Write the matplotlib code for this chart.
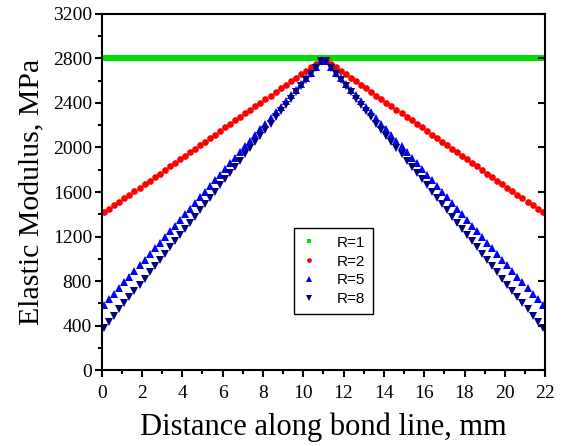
import matplotlib.pyplot as plt
import numpy as np

# distance along bond line, mm (element centres, 0.25 mm apart)
x = np.arange(0.125, 22, 0.25)

# elastic modulus, MPa
r1 = [2800] * 88
r2 = [1416, 1448, 1480, 1511, 1543, 1575, 1607, 1639, 1670, 1702, 1734, 1766,
      1798, 1830, 1861, 1893, 1925, 1957, 1989, 2020, 2052, 2084, 2116, 2148,
      2180, 2211, 2243, 2275, 2307, 2339, 2370, 2402, 2434, 2466, 2498, 2530,
      2561, 2593, 2625, 2657, 2689, 2720, 2752, 2784,
      2784, 2752, 2720, 2689, 2657, 2625, 2593, 2561, 2530, 2498, 2466, 2434,
      2402, 2370, 2339, 2307, 2275, 2243, 2211, 2180, 2148, 2116, 2084, 2052,
      2020, 1989, 1957, 1925, 1893, 1861, 1830, 1798, 1766, 1734, 1702, 1670,
      1639, 1607, 1575, 1543, 1511, 1480, 1448, 1416]
r5 = [585, 636, 687, 738, 789, 840, 891, 942, 993, 1044, 1095, 1145,
      1196, 1247, 1298, 1349, 1400, 1451, 1502, 1553, 1604, 1655, 1705, 1756,
      1807, 1858, 1909, 1960, 2011, 2062, 2113, 2164, 2215, 2265, 2316, 2367,
      2418, 2469, 2520, 2571, 2622, 2673, 2724, 2775,
      2775, 2724, 2673, 2622, 2571, 2520, 2469, 2418, 2367, 2316, 2265, 2215,
      2164, 2113, 2062, 2011, 1960, 1909, 1858, 1807, 1756, 1705, 1655, 1604,
      1553, 1502, 1451, 1400, 1349, 1298, 1247, 1196, 1145, 1095, 1044, 993,
      942, 891, 840, 789, 738, 687, 636, 585]
r8 = [378, 434, 489, 545, 601, 656, 712, 768, 823, 879, 935, 990,
      1046, 1102, 1157, 1213, 1269, 1324, 1380, 1436, 1491, 1547, 1603, 1659,
      1714, 1770, 1826, 1881, 1937, 1993, 2048, 2104, 2160, 2215, 2271, 2327,
      2382, 2438, 2494, 2549, 2605, 2661, 2716, 2772,
      2772, 2716, 2661, 2605, 2549, 2494, 2438, 2382, 2327, 2271, 2215, 2160,
      2104, 2048, 1993, 1937, 1881, 1826, 1770, 1714, 1659, 1603, 1547, 1491,
      1436, 1380, 1324, 1269, 1213, 1157, 1102, 1046, 990, 935, 879, 823,
      768, 712, 656, 601, 545, 489, 434, 378]

series = [("R=1", r1, "s", "#00dd00", 3.9),
          ("R=2", r2, "o", "#ff0000", 4.8),
          ("R=5", r5, "^", "#0000ff", 5.8),
          ("R=8", r8, "v", "#000080", 5.8)]

fig = plt.figure(figsize=(5.62, 4.46), dpi=100)
ax = fig.add_axes([0.181, 0.170, 0.789, 0.799])

for name, y, mk, col, ms in series:
    ax.plot(x, y, linestyle="none", marker=mk, color=col, markersize=ms,
            markeredgewidth=0, label=name)

ax.set_xlim(0, 22)
ax.set_ylim(0, 3200)
ax.set_xticks(np.arange(0, 23, 2))
ax.set_xticks(np.arange(1, 22, 2), minor=True)
ax.set_yticks(np.arange(0, 3201, 400))
ax.set_yticks(np.arange(200, 3200, 400), minor=True)

for s in ax.spines.values():
    s.set_linewidth(1.5)

serif = "Liberation Serif"
ax.tick_params(which="both", direction="out", width=1.5, top=False, right=False)
ax.tick_params(which="major", length=5)
ax.tick_params(which="minor", length=3)
ax.tick_params(axis="x", pad=6)
ax.tick_params(axis="y", pad=2)
for lab in ax.get_xticklabels() + ax.get_yticklabels():
    lab.set_fontfamily(serif)
    lab.set_fontsize(14)

# right axis: inward major ticks only, no labels
ax2 = ax.twinx()
ax2.set_ylim(0, 3200)
ax2.set_yticks(np.arange(0, 3201, 400))
ax2.tick_params(axis="y", direction="in", length=5, width=1.5, labelright=False)
for s in ax2.spines.values():
    s.set_visible(False)

ax.set_xlabel("Distance along bond line, mm", fontfamily=serif, fontsize=22,
              labelpad=7)
ax.set_ylabel("Elastic Modulus, MPa", fontfamily=serif, fontsize=21.5,
              labelpad=6)

leg = ax.legend(loc="upper left", bbox_to_anchor=(0.433, 0.399),
                borderaxespad=0, fancybox=False, edgecolor="black",
                framealpha=1, prop={"family": "Liberation Sans", "size": 11},
                labelspacing=0.32, handlelength=1.0, handletextpad=1.3,
                markerscale=0.7, borderpad=0.5)
leg.get_frame().set_linewidth(1.0)

fig.savefig("out.png", dpi=100)
